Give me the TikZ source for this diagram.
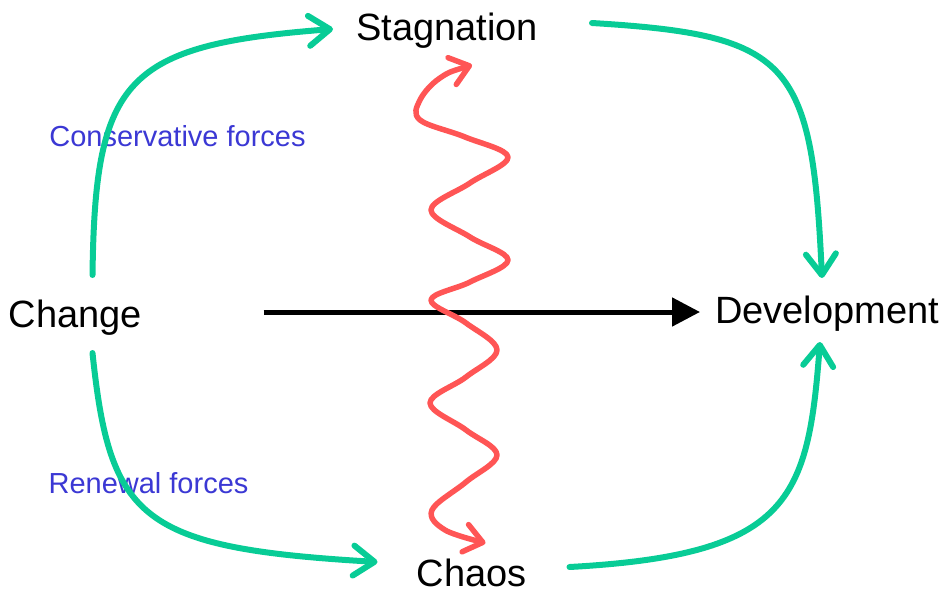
\documentclass[tikz,border=0pt]{standalone}
\usepackage{fontspec}
\setmainfont{Liberation Sans}
\usetikzlibrary{arrows.meta,calc}
\definecolor{flowgreen}{RGB}{8,204,150}
\definecolor{wavered}{RGB}{255,85,85}
\definecolor{forceblue}{RGB}{59,56,212}
\begin{document}
\begin{tikzpicture}[x=1pt,y=-1pt,
  main/.style={font=\fontsize{38}{44}\selectfont, inner sep=0pt, anchor=base},
  force/.style={font=\fontsize{29}{34}\selectfont, text=forceblue, inner sep=0pt, anchor=base},
  greenflow/.style={draw=flowgreen, line width=6pt, line cap=round, line join=round,
    -{Straight Barb[length=21pt,width=30pt,round]}},
  redwave/.style={draw=wavered, line width=5.5pt, line cap=round, line join=round,
    {Straight Barb[length=18pt,width=28pt,round]}-{Straight Barb[length=18pt,width=28pt,round]}},
  mainflow/.style={draw=black, line width=5pt, -{Triangle[length=28pt,width=28pt]}}]
\useasboundingbox (0,0) rectangle (951,594);

\node[main] (Stagnation) at (447,41) {Stagnation};
\node[main] (Change) at (75.5,327) {Change};
\node[main] (Development) at (827,323) {Development};
\node[main] (Chaos) at (471.5,586) {Chaos};
\node[force] (Conservative) at (177.5,146) {Conservative forces};
\node[force] (Renewal) at (148.5,493) {Renewal forces};

% green flows
\draw[greenflow] ($(Change.base)+(17,-52)$) .. controls (95,78) and (125,45) .. ($(Stagnation.base)+(-114,-12)$);
\draw[greenflow] ($(Stagnation.base)+(145,-18)$) .. controls (790,35) and (812,60) .. ($(Development.base)+(-5,-45)$);
\draw[greenflow] ($(Change.base)+(17,26)$) .. controls (110,520) and (140,548) .. ($(Chaos.base)+(-94,-24)$);
\draw[greenflow] ($(Chaos.base)+(98,-19)$) .. controls (790,555) and (808,500) .. ($(Development.base)+(-7,19)$);

% main arrow
\draw[mainflow] ($(Change.base)+(188,-15)$) -- ($(Development.base)+(-127,-11)$);

% red wave
\coordinate (wavetop) at ($(Stagnation.base)+(25,24)$);
\coordinate (wavebot) at ($(Chaos.base)+(14,-43)$);
\draw[redwave] plot[smooth, tension=0.6] coordinates {(wavetop) (440,78) (420,100) (420,120) (465,137) (508,157) (470,183) (431,210) (470,237) (508,260) (470,282) (431,300) (466,323) (497,350) (466,377) (430,403) (466,430) (497,455) (466,482) (432,510) (445,530) (wavebot)};
\end{tikzpicture}
\end{document}
